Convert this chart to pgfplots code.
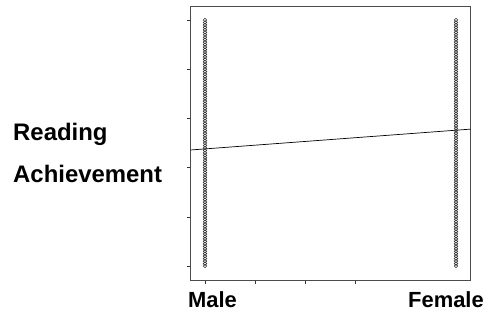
\documentclass[border=0pt]{standalone}
\usepackage{pgfplots}
\pgfplotsset{compat=1.18}
\usepackage{fontspec}
\setmainfont{Liberation Sans}
\begin{document}
\begin{tikzpicture}[x=1bp,y=1bp]
\path[use as bounding box] (-190.7bp,-32bp) rectangle (301.3bp,280bp);
\begin{axis}[
  at={(0,0)}, anchor=south west,
  scale only axis, width=280bp, height=274bp,
  xmin=-0.057, xmax=1.0586, ymin=-5.69, ymax=105.7,
  xtick={0,0.2,0.4,0.6}, ytick={0,20,40,60,80,100},
  xtick pos=bottom, ytick pos=left,
  xticklabels={}, yticklabels={},
  tick align=outside, major tick length=4bp,
  tick style={black!80, line width=0.6bp},
  axis line style={black!70, line width=0.9bp},
  clip=false,
]
\addplot[only marks, mark=o, mark size=1.8bp, mark options={black!80, line width=0.6bp}] coordinates {
(0,0)(0,1)(0,2)(0,3)(0,4)(0,5)(0,6)(0,7)(0,8)(0,9)(0,10)(0,11)(0,12)(0,13)(0,14)(0,15)(0,16)(0,17)(0,18)(0,19)(0,20)(0,21)(0,22)(0,23)(0,24)(0,25)(0,26)(0,27)(0,28)(0,29)(0,30)(0,31)(0,32)(0,33)(0,34)(0,35)(0,36)(0,37)(0,38)(0,39)(0,40)(0,41)(0,42)(0,43)(0,44)(0,45)(0,46)(0,47)(0,48)(0,49)(0,50)(0,51)(0,52)(0,53)(0,54)(0,55)(0,56)(0,57)(0,58)(0,59)(0,60)(0,61)(0,62)(0,63)(0,64)(0,65)(0,66)(0,67)(0,68)(0,69)(0,70)(0,71)(0,72)(0,73)(0,74)(0,75)(0,76)(0,77)(0,78)(0,79)(0,80)(0,81)(0,82)(0,83)(0,84)(0,85)(0,86)(0,87)(0,88)(0,89)(0,90)(0,91)(0,92)(0,93)(0,94)(0,95)(0,96)(0,97)(0,98)(0,99)(0,100)
(1,0)(1,1)(1,2)(1,3)(1,4)(1,5)(1,6)(1,7)(1,8)(1,9)(1,10)(1,11)(1,12)(1,13)(1,14)(1,15)(1,16)(1,17)(1,18)(1,19)(1,20)(1,21)(1,22)(1,23)(1,24)(1,25)(1,26)(1,27)(1,28)(1,29)(1,30)(1,31)(1,32)(1,33)(1,34)(1,35)(1,36)(1,37)(1,38)(1,39)(1,40)(1,41)(1,42)(1,43)(1,44)(1,45)(1,46)(1,47)(1,48)(1,49)(1,50)(1,51)(1,52)(1,53)(1,54)(1,55)(1,56)(1,57)(1,58)(1,59)(1,60)(1,61)(1,62)(1,63)(1,64)(1,65)(1,66)(1,67)(1,68)(1,69)(1,70)(1,71)(1,72)(1,73)(1,74)(1,75)(1,76)(1,77)(1,78)(1,79)(1,80)(1,81)(1,82)(1,83)(1,84)(1,85)(1,86)(1,87)(1,88)(1,89)(1,90)(1,91)(1,92)(1,93)(1,94)(1,95)(1,96)(1,97)(1,98)(1,99)(1,100)
};
\addplot[black, line width=0.7bp] coordinates {(-0.057,47.17) (1.0586,55.65)};
\end{axis}
\node[anchor=base west, inner sep=0pt, font=\fontsize{24}{28}\selectfont\bfseries] at (-177.7bp,139bp) {Reading};
\node[anchor=base west, inner sep=0pt, font=\fontsize{24}{28}\selectfont\bfseries] at (-177.7bp,97bp) {Achievement};
\node[anchor=base, inner sep=0pt, font=\fontsize{22}{26}\selectfont\bfseries] at (21.8bp,-27bp) {Male};
\node[anchor=base, inner sep=0pt, font=\fontsize{22}{26}\selectfont\bfseries] at (255.3bp,-27bp) {Female};
\end{tikzpicture}
\end{document}
